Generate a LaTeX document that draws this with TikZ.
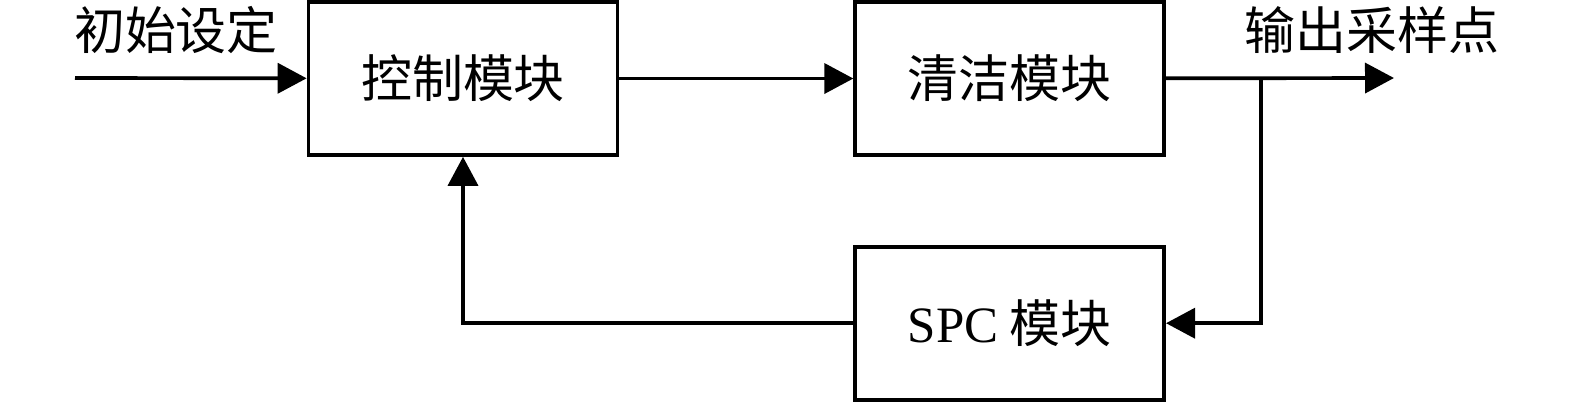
\documentclass[tikz,border=0pt]{standalone}
\usepackage{fontspec}
\setmainfont{Liberation Serif}
\newfontfamily\cjk{Noto Sans CJK SC}
\usepackage{tikz}
\usetikzlibrary{positioning, arrows.meta}

\begin{document}
\begin{tikzpicture}[
    module/.style={draw, line width=1.05pt, minimum width=3.09cm,
      minimum height=1.53cm, inner sep=0pt},
    flow/.style={line width=1.05pt,
      -{Triangle[length=0.29cm, width=0.3cm]}},
    every node/.style={font=\fontsize{14.5pt}{17pt}\selectfont\cjk}]
        \useasboundingbox (0,0) rectangle (15.75,-4.03);

        \node[module] (control) at (4.63,-0.785) {控制模块} ;

        \node[module, right=2.34cm of control] (clean) {清洁模块} ;

        \node[module, below=0.88cm of clean] (spc)
        {{\rmfamily SPC} 模块} ;

        \coordinate (input) at (0.75,-0.78) ;
        \coordinate (output) at (13.94,-0.78) ;
        \coordinate (branch) at (12.61,-0.78) ;

        \node[inner sep=0pt] (setting) at (1.76,-0.30) {初始设定} ;
        \node[inner sep=0pt] (sample) at (13.72,-0.30) {输出采样点} ;

        \draw[flow] (input) -- (control) ;
        \draw[flow] (control) -- (clean) ;
        \draw[flow] (clean) -- (output) ;
        \draw[flow] (branch) |- (spc) ;
        \draw[flow] (spc) -| (control) ;
      \end{tikzpicture}
\end{document}
